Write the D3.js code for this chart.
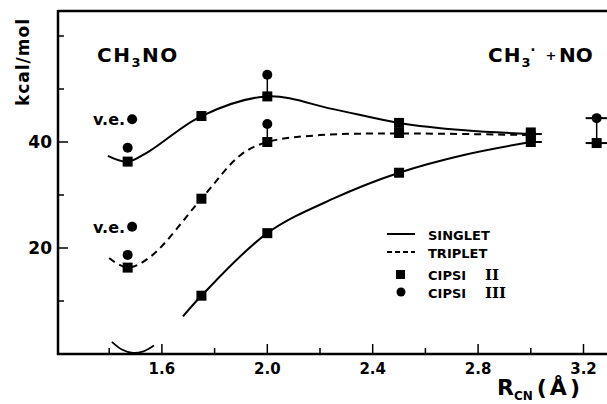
<!doctype html>
<html>
<head>
<meta charset="utf-8">
<title>CH3NO</title>
<style>
*{margin:0;padding:0;}
body{background:white;}
text{font-family:"DejaVu Sans","Liberation Sans",Arial,sans-serif;font-weight:bold;fill:#000;}
</style>
</head>
<body>
<script src="https://cdn.jsdelivr.net/npm/d3@7"></script>
<script>
// data
var xMajor = [1.6, 2.0, 2.4, 2.8, 3.2];
var xMinor = [1.4, 1.8, 2.2, 2.6, 3.0];
var yMajor = [20, 40];
var yMinor = [10, 30, 50, 60];

// curves (R, kcal/mol)
var singletCurve = [[1.395,37.4],[1.47,36.3],[1.55,38.2],[1.75,44.9],[2.0,48.6],[2.25,46.2],[2.5,43.6],[2.75,42.2],[3.0,41.5]];
var tripletCurve = [[1.40,18.1],[1.47,16.3],[1.56,18.5],[1.75,29.3],[1.9,37.6],[2.0,40.0],[2.2,41.3],[2.5,41.6],[3.0,41.3]];
var lowerCurve   = [[1.68,7.1],[1.75,11.0],[2.0,22.8],[2.25,29.3],[2.5,34.2],[2.75,37.6],[3.0,40.0]];
var arcCurve     = [[1.41,2.3],[1.45,0.8],[1.49,0.2],[1.53,0.5],[1.57,1.6]];

// CIPSI II (squares) and CIPSI III (circles)
var cipsi2 = [[1.47,36.3],[1.75,44.9],[2.0,48.6],[2.5,43.6],[3.0,41.8],
              [1.47,16.3],[1.75,29.3],[2.0,40.0],[2.5,41.7],[3.0,41.1],
              [1.75,11.0],[2.0,22.8],[2.5,34.2],[3.0,40.0],[3.25,39.8]];
var cipsi3 = [[1.47,38.9],[2.0,52.7],[1.47,18.7],[2.0,43.4],[3.25,44.5]];
var veDots = [[1.487,44.3],[1.487,24.0]];
var links  = [[2.0,48.6,52.7],[2.0,40.0,43.4],[3.25,39.8,44.5]];

var svg = d3.select("body").append("svg").attr("width",607).attr("height",404);

var x = d3.scaleLinear().domain([1.2,3.2]).range([56.5,583.5]);
var y = d3.scaleLinear().domain([0,40]).range([354,142]);

// frame
svg.append("line").attr("x1",58).attr("x2",607).attr("y1",11).attr("y2",11)
   .attr("stroke","#000").attr("stroke-width",2.5);
svg.append("line").attr("x1",58).attr("x2",58).attr("y1",10).attr("y2",355)
   .attr("stroke","#000").attr("stroke-width",2.5);
svg.append("line").attr("x1",57).attr("x2",607).attr("y1",354).attr("y2",354)
   .attr("stroke","#000").attr("stroke-width",2.5);

// ticks
svg.selectAll(".xt").data(xMajor.concat(xMinor)).enter().append("line")
   .attr("x1",d=>x(d)).attr("x2",d=>x(d))
   .attr("y1",354).attr("y2",d=>xMajor.indexOf(d)>=0?344:348)
   .attr("stroke","#000").attr("stroke-width",1.5);
svg.selectAll(".yt").data(yMajor.concat(yMinor)).enter().append("line")
   .attr("x1",58).attr("x2",d=>yMajor.indexOf(d)>=0?68:64)
   .attr("y1",d=>y(d)).attr("y2",d=>y(d))
   .attr("stroke","#000").attr("stroke-width",1.5);

svg.selectAll(".xl").data(xMajor).enter().append("text")
   .attr("x",d=>x(d)).attr("y",374).attr("text-anchor","middle")
   .style("font-size","15px").text(d=>d.toFixed(1));
svg.selectAll(".yl").data(yMajor).enter().append("text")
   .attr("x",52).attr("y",d=>y(d)+6).attr("text-anchor","end")
   .style("font-size","17px").text(d=>d);

// axis titles
svg.append("text").attr("transform","translate(29,62) rotate(-90)")
   .attr("text-anchor","middle").style("font-size","17px").style("letter-spacing","1px").text("kcal/mol");
var xt = svg.append("text").attr("x",497).attr("y",395).style("font-size","22px");
xt.append("tspan").text("R");
xt.append("tspan").attr("dy",5).style("font-size","12px").text("CN");
xt.append("tspan").attr("dy",-5).attr("dx",4).style("letter-spacing","3px").text("(Å)");

// species labels
var t1 = svg.append("text").attr("x",97).attr("y",62).style("font-size","20px").style("letter-spacing","1.5px");
t1.append("tspan").text("CH");
t1.append("tspan").attr("dy",5).style("font-size","13px").text("3");
t1.append("tspan").attr("dy",-5).text("NO");
var t2 = svg.append("text").attr("x",488).attr("y",62).style("font-size","20px").style("letter-spacing","1px");
t2.append("tspan").text("CH");
t2.append("tspan").attr("dy",5).style("font-size","13px").text("3");
svg.append("text").attr("x",533).attr("y",55).attr("text-anchor","middle").style("font-size","14px").text("·");
svg.append("text").attr("x",551).attr("y",60).attr("text-anchor","middle").style("font-size","13px").text("+");
svg.append("text").attr("x",559).attr("y",62).style("font-size","20px").text("NO");

// curves
var line = d3.line().x(d=>x(d[0])).y(d=>y(d[1])).curve(d3.curveCatmullRom.alpha(0.5));
svg.append("path").attr("d",line(singletCurve)).attr("fill","none").attr("stroke","#000").attr("stroke-width",2);
svg.append("path").attr("d",line(tripletCurve)).attr("fill","none").attr("stroke","#000").attr("stroke-width",2).attr("stroke-dasharray","7,5");
svg.append("path").attr("d",line(lowerCurve)).attr("fill","none").attr("stroke","#000").attr("stroke-width",2);
svg.append("path").attr("d",line(arcCurve)).attr("fill","none").attr("stroke","#000").attr("stroke-width",1.8);

// error links
svg.selectAll(".lk").data(links).enter().append("line")
   .attr("x1",d=>x(d[0])).attr("x2",d=>x(d[0]))
   .attr("y1",d=>y(d[1])).attr("y2",d=>y(d[2]))
   .attr("stroke","#000").attr("stroke-width",1.5);
// side bars on right end points
svg.selectAll(".hb").data([[3.25,39.8],[3.25,44.5]]).enter().append("line")
   .attr("x1",d=>x(d[0])-11).attr("x2",607)
   .attr("y1",d=>y(d[1])).attr("y2",d=>y(d[1]))
   .attr("stroke","#000").attr("stroke-width",2);
svg.selectAll(".hb3").data([[3.0,41.5],[3.0,40.0]]).enter().append("line")
   .attr("x1",d=>x(d[0])).attr("x2",d=>x(d[0])+11)
   .attr("y1",d=>y(d[1])).attr("y2",d=>y(d[1]))
   .attr("stroke","#000").attr("stroke-width",2);

// markers
svg.selectAll(".sq").data(cipsi2).enter().append("rect")
   .attr("x",d=>x(d[0])-5).attr("y",d=>y(d[1])-5).attr("width",10).attr("height",10).attr("fill","#000");
svg.selectAll(".ci").data(cipsi3.concat(veDots)).enter().append("circle")
   .attr("cx",d=>x(d[0])).attr("cy",d=>y(d[1])).attr("r",5).attr("fill","#000");

// v.e. labels
svg.selectAll(".ve").data(veDots).enter().append("text")
   .attr("x",d=>x(d[0])-7).attr("y",d=>y(d[1])+6).attr("text-anchor","end")
   .style("font-size","16px").text("v.e.");

// legend
var lg = svg.append("g");
lg.append("line").attr("x1",387).attr("x2",415).attr("y1",234).attr("y2",234).attr("stroke","#000").attr("stroke-width",2);
lg.append("line").attr("x1",387).attr("x2",415).attr("y1",252).attr("y2",252).attr("stroke","#000").attr("stroke-width",2).attr("stroke-dasharray","5,3");
lg.append("rect").attr("x",396).attr("y",270).attr("width",9).attr("height",9).attr("fill","#000");
lg.append("circle").attr("cx",401).attr("cy",292).attr("r",4.5).attr("fill","#000");
var lab = [["SINGLET",240,""],["TRIPLET",258,""],["CIPSI",280,"II"],["CIPSI",298,"III"]];
lab.forEach(function(l){
  lg.append("text").attr("x",428).attr("y",l[1]).style("font-size","13px").text(l[0]);
  if(l[2]) lg.append("text").attr("x",485).attr("y",l[1])
     .style("font-family","'DejaVu Serif','Liberation Serif',serif").style("font-size","15px").text(l[2]);
});
</script>
</body>
</html>
